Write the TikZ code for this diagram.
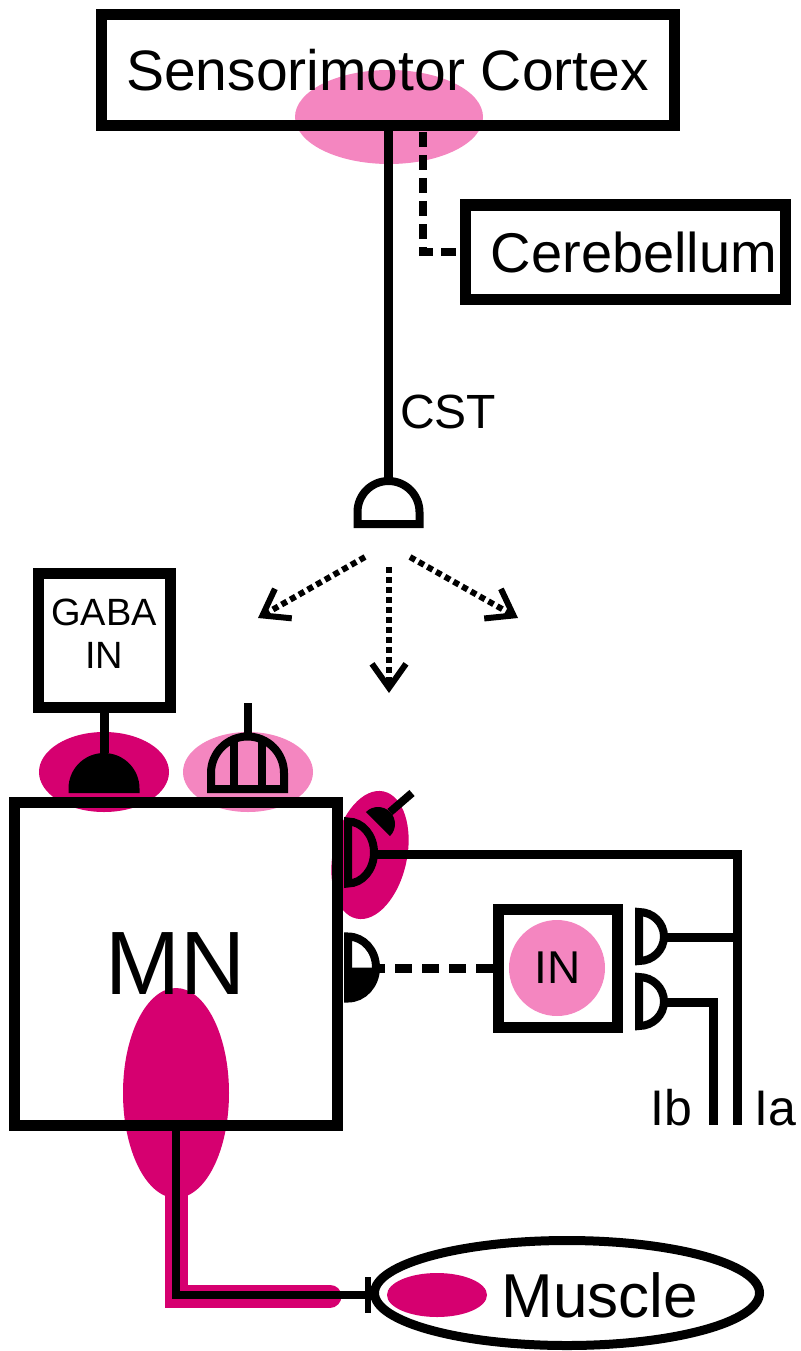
\documentclass[tikz,border=0pt]{standalone}
\usepackage{fontspec}
\setmainfont{Liberation Sans}
\usetikzlibrary{arrows.meta,shapes.geometric}
\definecolor{lightpink}{RGB}{244,134,192}
\definecolor{deeppink}{RGB}{214,0,112}
\newcommand\fsz[2]{\fontsize{#1}{#2}\selectfont}
\begin{document}
\begin{tikzpicture}[x=1pt,y=1pt,yscale=-1,
  every node/.style={inner sep=0pt},
  frame/.style={draw, rectangle, line width=11pt, inner sep=0pt},
  wire/.style={line width=9pt},
  thinwire/.style={line width=8pt},
  bouton/.style={line width=8pt},
  dashwire/.style={line width=8pt, dash pattern=on 15pt off 8pt},
  inhibwire/.style={line width=9pt, dash pattern=on 17pt off 10pt},
  dotarrow/.style={line width=6pt, dash pattern=on 6pt off 4pt,
    -{Straight Barb[length=24pt,width=34pt]}},
]
\useasboundingbox (0,0) rectangle (800,1351);

% coloured zones (drawn first, under outlines and text)
\fill[lightpink] (389,117) ellipse[x radius=94, y radius=47];
\fill[deeppink] (104,772) ellipse[x radius=65, y radius=40];
\fill[lightpink] (248,772) ellipse[x radius=65, y radius=40];
\fill[deeppink, rotate around={12:(370,855)}] (370,855) ellipse[x radius=37, y radius=65];
\fill[deeppink] (176,1093) ellipse[x radius=53, y radius=105];
\fill[lightpink] (557,968) circle[radius=48];
\fill[deeppink] (437,1295) ellipse[x radius=50, y radius=22];
\draw[deeppink, line width=23pt, line cap=round] (176,1150) -- (176,1296) -- (330,1296);

% boxes
\node[frame, minimum width=573pt, minimum height=111pt, font=\fsz{57}{66}]
  (cortex) at (387.5,70.5) {Sensorimotor Cortex};
\node[frame, minimum width=320pt, minimum height=94pt] (cereb) at (625.5,252) {};
\node[font=\fsz{56}{64}] at (634,252) {Cerebellum};
\node[frame, minimum width=132pt, minimum height=134pt] (gaba) at (104,640) {};
\node[align=center, font=\fsz{38}{43}] at (104,634) {GABA\\IN};
\node[frame, minimum width=322.5pt, minimum height=323pt, font=\fsz{90}{100}]
  (mn) at (175.75,963.5) {MN};
\node[frame, minimum width=119pt, minimum height=118pt, font=\fsz{46}{52}]
  (inbox) at (557.5,968) {IN};
\node[draw, ellipse, line width=9pt, minimum width=385pt, minimum height=105pt,
  inner sep=0pt] (muscle) at (567,1293) {};
\node[anchor=base, font=\fsz{62}{70}] at (600,1317) {Muscle};

% corticospinal tract
\coordinate (cstsyn) at (388.5,481);
\draw[wire] (cstsyn |- cortex.south) -- (cstsyn);
\draw[bouton] (357.5,524) -- (357.5,512) arc[start angle=180, end angle=360, radius=31]
  -- (419.5,524) -- cycle;
\node[anchor=base west, font=\fsz{48}{55}] at (400,428) {CST};

% cortex -- cerebellum loop
\coordinate (dashtop) at (423,132);
\draw[dashwire] (dashtop) |- (cereb.west);

% diverging projections
\coordinate (fanL) at (365,557);
\coordinate (fanM) at (389,567);
\coordinate (fanR) at (410,557);
\coordinate (tipL) at (258,618);
\coordinate (tipM) at (389,693);
\coordinate (tipR) at (518,618);
\draw[dotarrow] (fanL) -- (tipL);
\draw[dotarrow] (fanM) -- (tipM);
\draw[dotarrow] (fanR) -- (tipR);

% GABAergic interneuron terminal
\coordinate (gabasyn) at (104,753);
\draw[wire] (gaba.south) -- (gabasyn);
\fill (68.5,793) -- (68.5,788.5) arc[start angle=180, end angle=360, radius=35.5]
  -- (139.5,793) -- cycle;

% striped terminal
\coordinate (stripestem) at (247.5,703);
\coordinate (stripesyn) at (247.5,737);
\draw[thinwire] (stripestem) -- (stripesyn);
\draw[bouton] (211,789) -- (211,773) arc[start angle=180, end angle=360, radius=36.5]
  -- (284,789) -- cycle;
\draw[bouton] (233.5,789) -- (233.5,740) (261.5,789) -- (261.5,740);

% Ia terminal with presynaptic contact
\draw[bouton] (348,821.5) arc[start angle=-90, end angle=90, x radius=26, y radius=31] -- cycle;
\fill (378,824) ++(45:17) arc[start angle=45, end angle=-135, radius=17] -- cycle;
\coordinate (blobtip) at (390,812);
\coordinate (blobstem) at (412,793);
\draw[thinwire] (blobtip) -- (blobstem);
\coordinate (dtopeast) at (374,854);
\coordinate (iacorner) at (737,854);
\coordinate (ia) at (737,1125);
\draw[wire] (dtopeast) -- (iacorner) -- (ia);

% inhibitory interneuron terminal on MN
\draw[bouton] (348,936.5) arc[start angle=-90, end angle=90, x radius=28, y radius=31] -- cycle;
\fill (348,967.5) -- (376,967.5) arc[start angle=0, end angle=90, x radius=28, y radius=31] -- cycle;
\coordinate (dhalf) at (376,968);
\draw[inhibwire] (inbox.west) -- (dhalf);

% afferent terminals on IN
\draw[bouton] (639,912) arc[start angle=-90, end angle=90, x radius=25, y radius=24.5] -- cycle;
\draw[bouton] (639,977) arc[start angle=-90, end angle=90, x radius=25, y radius=24.5] -- cycle;
\coordinate (d1) at (664,937);
\coordinate (d2) at (664,1002);
\coordinate (ib) at (713,1125);
\draw[wire] (d1) -- (d1 -| ia);
\draw[wire] (d2) -- (d2 -| ib) -- (ib);
\node[anchor=base east, font=\fsz{50}{56}] at (692,1125) {Ib};
\node[anchor=base west, font=\fsz{50}{56}] at (754,1125) {Ia};

% motor axon to muscle
\coordinate (axcorner) at (176,1295);
\coordinate (tbar) at (368,1295);
\draw[thinwire] (axcorner |- mn.south) -- (axcorner) -- (tbar);
\draw[line width=6pt] (tbar) ++(0,-18) -- ++(0,36);
\end{tikzpicture}
\end{document}
